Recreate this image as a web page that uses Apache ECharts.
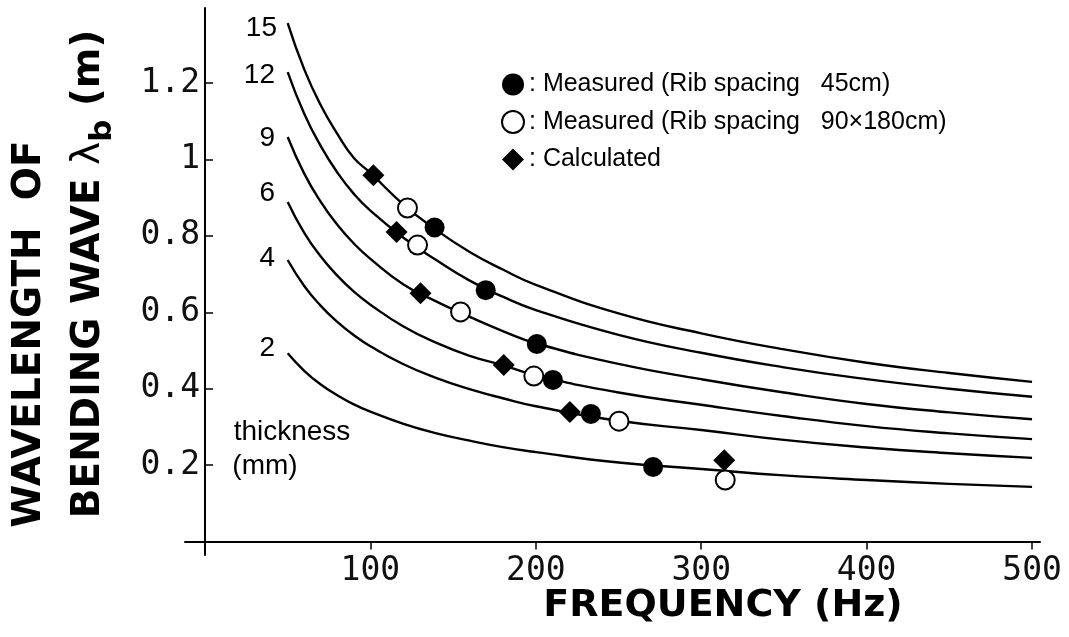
<!DOCTYPE html>
<html>
<head>
<meta charset="utf-8">
<script src="https://cdn.jsdelivr.net/npm/echarts@6/dist/echarts.min.js"></script>
<style>
html,body{margin:0;padding:0;background:#fff;}
#chart{width:1069px;height:637px;}
</style>
</head>
<body>
<div id="chart"></div>
<script>
// ---- data ----
var freqs = [50, 60, 70, 80, 90, 100, 120, 140, 160, 180, 200, 250, 300, 350, 400, 450, 500];
var thicknessLabels = ['15', '12', '9', '6', '4', '2'];
var curve15 = [1.357, 1.236, 1.142, 1.067, 1.004, 0.965, 0.882, 0.815, 0.758, 0.712, 0.672, 0.597, 0.545, 0.503, 0.468, 0.441, 0.418];
var curve12 = [1.229, 1.120, 1.035, 0.966, 0.910, 0.866, 0.795, 0.736, 0.683, 0.641, 0.606, 0.541, 0.494, 0.456, 0.425, 0.400, 0.379];
var curve9  = [1.059, 0.963, 0.889, 0.829, 0.780, 0.740, 0.673, 0.628, 0.588, 0.551, 0.519, 0.465, 0.425, 0.390, 0.360, 0.338, 0.320];
var curve6  = [0.889, 0.808, 0.746, 0.696, 0.654, 0.620, 0.563, 0.520, 0.486, 0.462, 0.435, 0.390, 0.358, 0.328, 0.302, 0.283, 0.268];
var curve4  = [0.737, 0.669, 0.617, 0.575, 0.540, 0.511, 0.464, 0.428, 0.399, 0.375, 0.354, 0.316, 0.292, 0.266, 0.246, 0.231, 0.219];
var curve2  = [0.493, 0.447, 0.411, 0.383, 0.359, 0.340, 0.308, 0.283, 0.264, 0.247, 0.234, 0.207, 0.190, 0.173, 0.161, 0.151, 0.143];

var measured45 = [[138.8, 0.822], [169.7, 0.658], [200.6, 0.517], [210.3, 0.423], [233.3, 0.334], [270.9, 0.195]];
var measured90 = [[122.4, 0.873], [128.5, 0.776], [154.5, 0.601], [198.8, 0.433], [250.3, 0.315], [314.5, 0.161]];
var calculated = [[101.8, 0.959], [115.8, 0.810], [130.3, 0.650], [180.6, 0.462], [220.6, 0.339], [313.9, 0.213]];

var xTicks = [100, 200, 300, 400, 500];
var yTicks = [0.2, 0.4, 0.6, 0.8, 1, 1.2];
var legendNames = [': Measured (Rib spacing   45cm)', ': Measured (Rib spacing   90\u00d7180cm)', ': Calculated'];

// ---- chart ----
var curves = [curve15, curve12, curve9, curve6, curve4, curve2];
function pairs(vals) { return freqs.map(function (f, i) { return [f, vals[i]]; }); }

var series = curves.map(function (c, i) {
  return {
    type: 'line', name: 't' + thicknessLabels[i], data: pairs(c),
    smooth: true, showSymbol: false, silent: true,
    lineStyle: { color: '#000', width: 2.4 }, z: 2
  };
});
series.push({
  type: 'scatter', name: legendNames[0], data: measured45, symbol: 'circle', symbolSize: 20,
  itemStyle: { color: '#000', opacity: 1 }, z: 5
});
series.push({
  type: 'scatter', name: legendNames[1], data: measured90, symbol: 'circle', symbolSize: 19,
  itemStyle: { color: '#fff', borderColor: '#000', borderWidth: 2, opacity: 1 }, z: 5
});
series.push({
  type: 'scatter', name: legendNames[2], data: calculated, symbol: 'diamond', symbolSize: 22,
  itemStyle: { color: '#000', opacity: 1 }, z: 5
});

var monoFont = 'DejaVu Sans Mono';
var labelFont = '"Liberation Sans", Arial, sans-serif';
var titleFont = '"DejaVu Sans", sans-serif';

var thickPos = [[277, 28], [275, 75], [275, 138], [275, 193], [275, 258], [275, 348]];
var graphics = thicknessLabels.map(function (t, i) {
  return {
    type: 'text', x: thickPos[i][0], y: thickPos[i][1],
    style: { text: t, font: '28px ' + labelFont, fill: '#000', textAlign: 'right', textVerticalAlign: 'middle' }
  };
});
graphics.push({
  type: 'text', x: 292, y: 432,
  style: { text: 'thickness', font: '28px ' + labelFont, fill: '#000', textAlign: 'center', textVerticalAlign: 'middle' }
});
graphics.push({
  type: 'text', x: 265, y: 466,
  style: { text: '(mm)', font: '28px ' + labelFont, fill: '#000', textAlign: 'center', textVerticalAlign: 'middle' }
});
graphics.push({
  type: 'text', x: 30, y: 334, rotation: Math.PI / 2,
  style: { text: 'WAVELENGTH  OF', font: 'bold 39px ' + titleFont, fill: '#000', textAlign: 'center', textVerticalAlign: 'middle' }
});
graphics.push({
  type: 'text', x: 89, y: 274, rotation: Math.PI / 2,
  style: {
    text: '{n|BENDING WAVE }{l|\u03bb}{s|b}{n| (m)}',
    textAlign: 'center', textVerticalAlign: 'middle',
    rich: {
      n: { font: 'bold 39px ' + titleFont, fill: '#000', lineHeight: 44, verticalAlign: 'middle' },
      l: { font: '39px ' + titleFont, fill: '#000', lineHeight: 44, verticalAlign: 'middle' },
      s: { font: 'bold 31px ' + titleFont, fill: '#000', lineHeight: 58, verticalAlign: 'bottom' }
    }
  }
});
graphics.push({
  type: 'text', x: 723, y: 606,
  style: { text: 'FREQUENCY (Hz)', font: 'bold 38px ' + titleFont, fill: '#000', textAlign: 'center', textVerticalAlign: 'middle' }
});

var option = {
  backgroundColor: '#fff',
  animation: false,
  grid: { left: 185, right: 29, top: 8, bottom: 82, containLabel: false },
  legend: {
    data: legendNames, orient: 'vertical', left: 496, top: 67,
    itemWidth: 22, itemHeight: 22, itemGap: 12.5, itemStyle: { borderWidth: 2 },
    textStyle: { fontFamily: labelFont, fontSize: 25, color: '#000', lineHeight: 24 },
    selectedMode: false
  },
  xAxis: {
    type: 'value', min: -12.09, max: 504.8,
    axisLine: { onZero: true, lineStyle: { color: '#000', width: 2 } },
    axisTick: { show: true, customValues: xTicks, length: 8, lineStyle: { color: '#000', width: 1.5 } },
    axisLabel: { customValues: xTicks, fontFamily: monoFont, fontSize: 33, color: '#111', margin: 0 },
    splitLine: { show: false }
  },
  yAxis: {
    type: 'value', min: -0.0353, max: 1.3966,
    axisLine: { onZero: true, lineStyle: { color: '#000', width: 2 } },
    axisTick: { show: true, inside: true, customValues: yTicks, length: 8, lineStyle: { color: '#000', width: 1.5 } },
    axisLabel: { customValues: yTicks, fontFamily: monoFont, fontSize: 33, color: '#111', margin: -15 },
    splitLine: { show: false }
  },
  graphic: graphics,
  series: series
};

var chart = echarts.init(document.getElementById('chart'), null, { renderer: 'canvas' });
chart.setOption(option);
</script>
</body>
</html>
